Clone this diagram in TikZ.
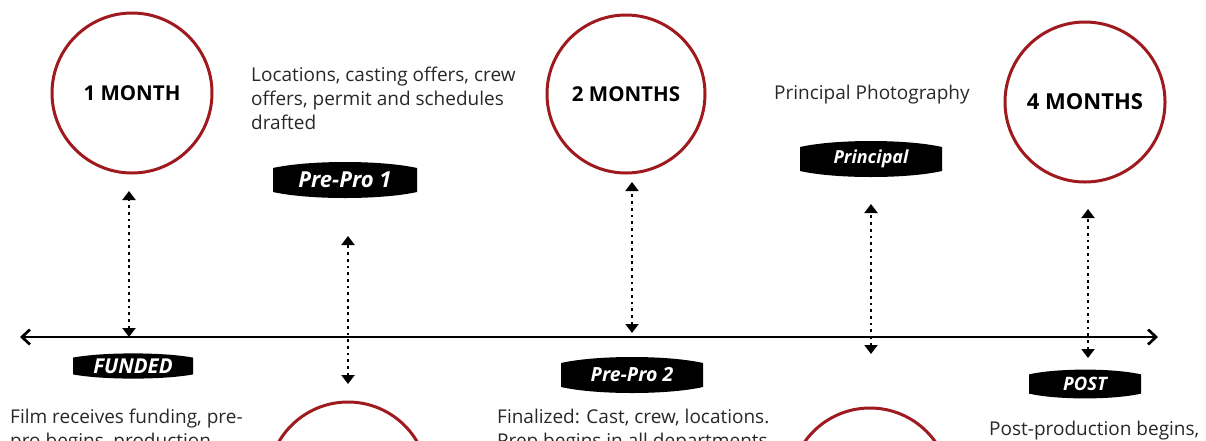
\documentclass[tikz,border=0pt]{standalone}
\usepackage{fontspec}
\setmainfont{Open Sans}
\usetikzlibrary{arrows.meta,calc}
\definecolor{ring}{RGB}{158,26,30}
\definecolor{desctext}{RGB}{40,40,40}
\tikzset{
  ringnode/.style={circle, draw=ring, line width=3pt, minimum size=#1, inner sep=0pt,
    font=\fontsize{20.5}{24}\selectfont\bfseries, text=black},
  tagbox/.style n args={3}{minimum width=#1, minimum height=#2, inner sep=0pt, text=white,
    font=\fontsize{#3}{22}\selectfont\bfseries\itshape,
    path picture={
      \fill[black] ($(path picture bounding box.north west)!0.2!(path picture bounding box.south west)$)
        .. controls ($(path picture bounding box.north west)!0.25!(path picture bounding box.north east)$)
        and ($(path picture bounding box.north west)!0.75!(path picture bounding box.north east)$) ..
        ($(path picture bounding box.north east)!0.2!(path picture bounding box.south east)$)
        -- ($(path picture bounding box.south east)!0.2!(path picture bounding box.north east)$)
        .. controls ($(path picture bounding box.south west)!0.75!(path picture bounding box.south east)$)
        and ($(path picture bounding box.south west)!0.25!(path picture bounding box.south east)$) ..
        ($(path picture bounding box.south west)!0.2!(path picture bounding box.north west)$) -- cycle;
    }},
  desc/.style={anchor=north west, inner sep=0pt, align=left,
    font=\fontsize{19}{24}\selectfont, text=desctext},
  dotarrow/.style={line width=2.8pt, dash pattern=on 2.8pt off 3.9pt,
    {Triangle[length=9pt,width=13pt]}-{Triangle[length=9pt,width=13pt]}},
  timeline/.style={line width=2.7pt,
    {Straight Barb[length=8pt,width=15pt,line width=2.7pt]}-{Straight Barb[length=8pt,width=15pt,line width=2.7pt]}}
}
\begin{document}
\begin{tikzpicture}[x=1pt,y=-1pt]
  \useasboundingbox (0,0) rectangle (1206,440);
  \clip (0,0) rectangle (1206,440);

  % timeline
  \coordinate (tl) at (20,337);
  \coordinate (tr) at (1158,337);
  \draw[timeline] (tl) -- (tr);

  % circles
  \node[ringnode=160pt] (m1) at (132,93) {1 MONTH};
  \node[ringnode=158pt] (m2) at (626,94) {2 MONTHS};
  \node[ringnode=160pt, font=\fontsize{22}{26}\selectfont\bfseries] (m4) at (1085,102) {4 MONTHS};
  \node[ringnode=160pt] (m3a) at (348,482) {};
  \node[ringnode=160pt] (m3b) at (870,488) {};

  % tags
  \node[tagbox={144pt}{40pt}{22}] (pp1) at (345,180) {Pre-Pro 1};
  \node[tagbox={120pt}{28pt}{20.5}] (fund) at (133,366) {FUNDED};
  \node[tagbox={142pt}{40pt}{19.5}] (pp2) at (632,375) {Pre-Pro 2};
  \node[tagbox={142pt}{40pt}{18}] (prin) at (871,159) {Principal};
  \node[tagbox={112pt}{32pt}{18.5}] (post) at (1085,384) {POST};

  % dotted connectors
  \coordinate (d1t) at (129,191); \coordinate (d1b) at (129,337);
  \coordinate (d2t) at (348,236); \coordinate (d2b) at (348,384);
  \coordinate (d3t) at (632,182); \coordinate (d3b) at (632,333);
  \coordinate (d4t) at (871,204); \coordinate (d4b) at (871,354);
  \coordinate (d5t) at (1088,209); \coordinate (d5b) at (1088,358);
  \draw[dotarrow] (d1b) -- (d1t);
  \draw[dotarrow] (d2b) -- (d2t);
  \draw[dotarrow] (d3b) -- (d3t);
  \draw[dotarrow] (d4b) -- (d4t);
  \draw[dotarrow] (d5b) -- (d5t);

  % descriptions
  \node[desc] (t1) at (251,66.5) {Locations, casting offers, crew\\offers, permit and schedules\\drafted};
  \node[desc] (t2) at (774,84.5) {Principal Photography};
  \node[desc] (t3) at (10,408.5) {Film receives funding, pre-\\pro begins, production};
  \node[desc] (t4) at (497,408.5) {Finalized: Cast, crew, locations.\\Prep begins in all departments};
  \node[desc] (t5) at (989,420.5) {Post-production begins,};
\end{tikzpicture}
\end{document}
